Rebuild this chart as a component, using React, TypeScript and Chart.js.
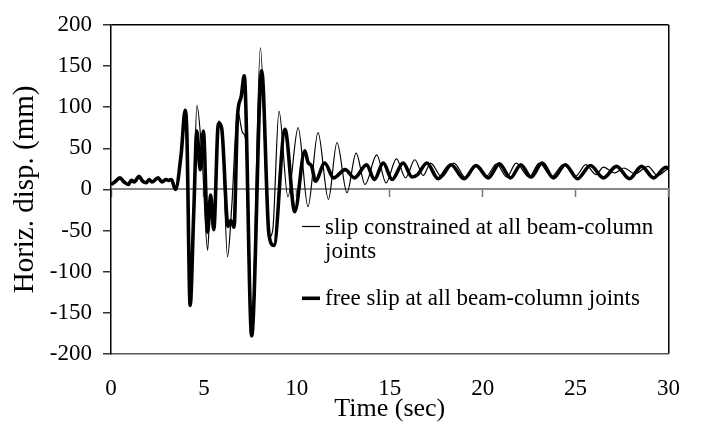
import { useEffect, useRef } from "react";
import { Chart, registerables } from "chart.js";

Chart.register(...registerables);

// ---- data ----
const X_MIN = 0;
const X_MAX = 30;
const X_STEP = 5;
const Y_MIN = -200;
const Y_MAX = 200;
const Y_STEP = 50;

const X_TITLE = "Time (sec)";
const Y_TITLE = "Horiz. disp. (mm)";

const SERIES_LABELS = [
  "slip constrained at all beam-column joints",
  "free slip at all beam-column joints",
];

// slip constrained (thin)
const thinT = [
  0, 0.2, 0.48, 0.7, 0.93, 1.1, 1.25, 1.51, 1.7, 1.9, 2.05, 2.2, 2.53, 2.75, 2.95, 3.1, 3.25, 3.47,
  3.78, 3.99, 4.08, 4.26, 4.45, 4.62, 4.9, 5.2, 5.36, 5.5, 5.78, 5.95, 6.27, 6.5, 6.81, 7.08, 7.26,
  7.57, 8.04, 8.5, 8.7, 9.04, 9.52, 10.07, 10.6, 11.14, 11.7, 12.16, 12.7, 13.19, 13.67, 14.3, 14.8,
  15.36, 15.85, 16.35, 16.8, 17.2, 17.8, 18.45, 19.1, 19.6, 20.2, 20.75, 21.3, 21.8, 22.5, 23.05,
  23.7, 24.35, 25.0, 25.55, 26.1, 26.5, 27.1, 27.6, 28.2, 28.9, 29.4, 30,
];
const thinV = [
  6, 9, 14, 9, 6, 11, 9, 16, 10, 8, 12, 9, 14, 9, 12, 11, 12, 0,
  42, 93, 65, -138, -20, 102, 40, -74, -10, -45, 83, 78, -82, -20, 96, 69, 59,
  -168, 172, -58, -50, 95, -9, 75, -21, 69, -12, 57, -4, 44, 6, 42, 8,
  37, 14, 36, 17, 32, 15, 32, 14, 28, 16, 31, 15, 32, 15, 32,
  16, 30, 16, 30, 18, 27, 20, 26, 19, 28, 17, 26,
];

// free slip (thick)
const thickT = [
  0, 0.2, 0.48, 0.7, 0.93, 1.1, 1.25, 1.51, 1.7, 1.9, 2.05, 2.2, 2.53, 2.75, 2.95, 3.1, 3.25, 3.47,
  3.78, 3.99, 4.08, 4.26, 4.45, 4.62, 4.8, 4.97, 5.2, 5.36, 5.53, 5.78, 5.95, 6.3, 6.45, 6.62, 6.81,
  7.0, 7.17, 7.57, 8.11, 8.5, 8.77, 9.36, 9.89, 10.43, 10.6, 10.8, 11.0, 11.5, 11.98, 12.6, 13.1,
  13.76, 14.17, 14.65, 15.13, 15.72, 16.2, 16.5, 17.0, 17.6, 18.3, 19.0, 19.65, 20.3, 20.9, 21.5,
  22.05, 22.6, 23.2, 23.8, 24.45, 25.1, 25.8, 26.5, 27.2, 27.9, 28.55, 29.2, 29.85, 30,
];
const thickV = [
  6, 9, 14, 9, 6, 11, 9, 16, 10, 8, 12, 9, 14, 9, 12, 11, 12, 0,
  44, 96, 70, -141, -30, 71, 24, 71, -52, -7, -49, 80, 75, -45, -38, -46, 90,
  112, 138, -178, 144, -55, -68, 73, -27, 47, 33, 28, 10, 32, 14, 24, 14,
  30, 12, 32, 12, 32, 15, 18, 32, 13, 30, 13, 29, 14, 31, 14,
  30, 15, 32, 14, 30, 13, 29, 14, 28, 13, 28, 14, 27, 25,
];

const toPoints = (t: number[], v: number[]) => t.map((tt, i) => ({ x: tt, y: v[i] }));

const FONT = "'Liberation Serif', 'Times New Roman', serif";

const innerLegend = {
  id: "innerLegend",
  afterDatasetsDraw(chart: any) {
    const o = chart.options.plugins.innerLegend;
    const ctx = chart.ctx;
    ctx.save();
    ctx.font = `${o.fontSize}px ${FONT}`;
    ctx.fillStyle = "#000";
    ctx.textAlign = "left";
    ctx.textBaseline = "middle";
    let y = o.top;
    chart.data.datasets.forEach((ds: any) => {
      const words = String(ds.label).split(" ");
      const lines: string[] = [];
      let cur = "";
      words.forEach((w) => {
        const test = cur ? cur + " " + w : w;
        if (ctx.measureText(test).width > o.maxWidth && cur) {
          lines.push(cur);
          cur = w;
        } else cur = test;
      });
      if (cur) lines.push(cur);
      ctx.strokeStyle = ds.borderColor;
      ctx.lineWidth = ds.borderWidth;
      ctx.beginPath();
      ctx.moveTo(o.left, y - 1);
      ctx.lineTo(o.left + o.sample, y - 1);
      ctx.stroke();
      lines.forEach((ln, i) => ctx.fillText(ln, o.left + o.sample + o.gapText, y + i * o.lineHeight));
      y += (lines.length - 1) * o.lineHeight + o.entryGap;
    });
    ctx.restore();
  },
};

export default function App() {
  const ref = useRef<HTMLCanvasElement | null>(null);

  useEffect(() => {
    document.body.style.margin = "0";
    const canvas = ref.current!;
    const chart = new Chart(canvas, {
      type: "line",
      data: {
        datasets: [
          {
            label: SERIES_LABELS[0],
            data: toPoints(thinT, thinV),
            borderColor: "#000",
            borderWidth: 1.2,
            pointRadius: 0,
            cubicInterpolationMode: "monotone",
            fill: false,
          },
          {
            label: SERIES_LABELS[1],
            data: toPoints(thickT, thickV),
            borderColor: "#000",
            borderWidth: 3.6,
            pointRadius: 0,
            cubicInterpolationMode: "monotone",
            fill: false,
          },
        ],
      },
      plugins: [innerLegend],
      options: {
        responsive: false,
        animation: false,
        events: [],
        layout: { padding: { left: 0, right: 28, top: 13, bottom: 0 } },
        plugins: {
          legend: { display: false },
          tooltip: { enabled: false },
          innerLegend: {
            left: 302,
            top: 227.5,
            fontSize: 23,
            sample: 18,
            gapText: 5,
            lineHeight: 24.5,
            entryGap: 47.3,
            maxWidth: 345,
          },
        } as any,
        scales: {
          x: {
            type: "linear",
            position: "bottom",
            min: X_MIN,
            max: X_MAX,
            afterFit: (s: any) => {
              s.height = 72;
            },
            ticks: {
              stepSize: X_STEP,
              padding: 21,
              color: "#000",
              font: { family: FONT, size: 23 },
              maxRotation: 0,
            },
            grid: {
              drawTicks: false,
              color: (c: any) => (c.tick && c.tick.value === X_MAX ? "#000" : "rgba(0,0,0,0)"),
              lineWidth: 1.5,
            },
            border: { display: true, color: "#555", width: 1.5 },
            title: {
              display: true,
              text: X_TITLE,
              color: "#000",
              font: { family: FONT, size: 26 },
              padding: { top: 0, bottom: 1 },
            },
          },
          x2: {
            type: "linear",
            axis: "x",
            position: { y: 0 },
            min: X_MIN,
            max: X_MAX,
            ticks: { stepSize: X_STEP, display: false },
            grid: { drawOnChartArea: false, tickLength: 7, tickColor: "#777", tickWidth: 1.5 },
            border: { display: true, color: "#888", width: 2 },
          } as any,
          y: {
            type: "linear",
            min: Y_MIN,
            max: Y_MAX,
            afterFit: (s: any) => {
              s.width = 111;
            },
            ticks: {
              stepSize: Y_STEP,
              padding: 11,
              color: "#000",
              font: { family: FONT, size: 23 },
            },
            grid: {
              tickLength: 8,
              tickColor: "#333",
              tickWidth: 1.5,
              color: (c: any) => (c.tick && c.tick.value === Y_MAX ? "#000" : "rgba(0,0,0,0)"),
              lineWidth: 1.5,
            },
            border: { display: true, color: "#000", width: 1.5 },
            title: {
              display: true,
              text: Y_TITLE,
              color: "#000",
              font: { family: FONT, size: 29 },
              padding: { top: 8, bottom: 0 },
            },
          },
        },
      } as any,
    });
    return () => chart.destroy();
  }, []);

  return (
    <div style={{ width: 701, height: 426, background: "#fff" }}>
      <canvas ref={ref} width={701} height={426} style={{ display: "block" }} />
    </div>
  );
}
